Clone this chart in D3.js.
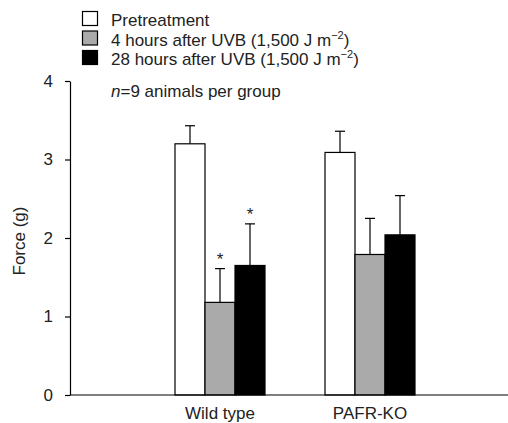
<!DOCTYPE html>
<html><head><meta charset="utf-8">
<script src="https://cdn.jsdelivr.net/npm/d3@7"></script>
<style>body{margin:0;background:#fff}svg{display:block}text{font-family:"Liberation Sans",Arial,sans-serif}</style>
</head><body><svg id="c" width="508" height="423"></svg>
<script>
const groups = ["Wild type", "PAFR-KO"];
const series = ["Pretreatment", "4 hours after UVB", "28 hours after UVB"];
const means = {"Wild type": [3.20, 1.18, 1.65], "PAFR-KO": [3.09, 1.79, 2.04]};
const errs  = {"Wild type": [0.23, 0.43, 0.53], "PAFR-KO": [0.27, 0.46, 0.50]};
const signif = {"Wild type": [false, true, true], "PAFR-KO": [false, false, false]};
const yTicks = [0, 1, 2, 3, 4];
const colors = ["#ffffff", "#aaaaaa", "#000000"];
const FS = 17;

const svg = d3.select("#c");
const y = d3.scaleLinear().domain([0, 4]).range([395, 81]);
const x = d3.scaleBand().domain(groups).range([70, 520]).paddingInner(0).paddingOuter(0.5);
const xs = d3.scaleBand().domain(series).range([-45, 45]);

// bars
groups.forEach(g => {
  const cx = x(g) + x.bandwidth() / 2;
  series.forEach((s, i) => {
    const bx = cx + xs(s);
    const m = means[g][i], e = errs[g][i];
    const mid = bx + xs.bandwidth() / 2;
    svg.append("line").attr("x1", mid).attr("x2", mid).attr("y1", y(m)).attr("y2", y(m + e))
      .attr("stroke", "#000").attr("stroke-width", 1.2);
    svg.append("line").attr("x1", mid - 5).attr("x2", mid + 5).attr("y1", y(m + e)).attr("y2", y(m + e))
      .attr("stroke", "#000").attr("stroke-width", 1.2);
    svg.append("rect").attr("x", bx).attr("y", y(m)).attr("width", xs.bandwidth()).attr("height", y(0) - y(m))
      .attr("fill", colors[i]).attr("stroke", "#000").attr("stroke-width", 1.2);
    if (signif[g][i]) {
      svg.append("text").attr("x", mid).attr("y", y(m + e) - 4).attr("text-anchor", "middle")
        .attr("font-size", 17).attr("fill", "#222").text("*");
    }
  });
});

// y axis
const ya = svg.append("g").attr("transform", "translate(70,0)")
  .call(d3.axisLeft(y).tickValues(yTicks).tickFormat(d3.format("d")).tickSize(5).tickSizeOuter(0).tickPadding(12));
ya.selectAll("path,line").attr("stroke", "#000").attr("stroke-width", 1.2);
ya.selectAll("text").attr("font-size", FS).attr("fill", "#222").style("font-family", '"Liberation Sans",Arial,sans-serif');

// x axis line
svg.append("line").attr("x1", 70).attr("x2", 508).attr("y1", y(0)).attr("y2", y(0)).attr("stroke", "#000").attr("stroke-width", 1.2);
groups.forEach(g => {
  svg.append("text").attr("x", x(g) + x.bandwidth() / 2).attr("y", 419).attr("text-anchor", "middle")
    .attr("font-size", FS).attr("fill", "#222").text(g);
});

// y title
svg.append("text").attr("transform", "translate(25,241) rotate(-90)").attr("text-anchor", "middle")
  .attr("font-size", FS).attr("fill", "#222").text("Force (g)");

// legend
const legendLabels = ["Pretreatment", "4 hours after UVB (1,500 J m", "28 hours after UVB (1,500 J m"];
legendLabels.forEach((l, i) => {
  const yy = 11.5 + i * 19.5;
  svg.append("rect").attr("x", 82.5).attr("y", yy).attr("width", 15).attr("height", 14)
    .attr("fill", colors[i]).attr("stroke", "#000").attr("stroke-width", 1.2);
  const t = svg.append("text").attr("x", 111).attr("y", 26 + i * 19.5).attr("font-size", FS).attr("fill", "#222");
  t.append("tspan").text(l);
  if (i > 0) {
    t.append("tspan").attr("dy", -7).attr("font-size", 11).text("\u22122");
    t.append("tspan").attr("dy", 7).text(")");
  }
});
const nt = svg.append("text").attr("x", 111).attr("y", 97).attr("font-size", FS).attr("fill", "#222");
nt.append("tspan").attr("font-style", "italic").text("n");
nt.append("tspan").text("=9 animals per group");
</script></body></html>
